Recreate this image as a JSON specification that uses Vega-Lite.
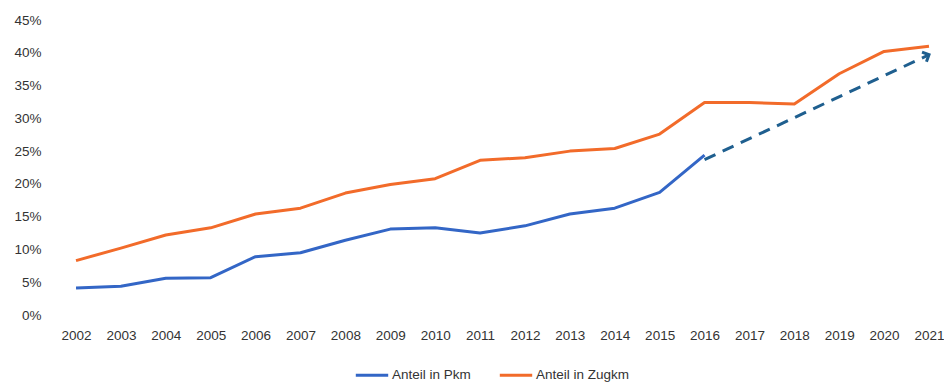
{
  "$schema": "https://vega.github.io/schema/vega-lite/v6.json",
  "width": 885,
  "height": 295,
  "autosize": {"type": "none"},
  "padding": {"left": 55, "top": 20, "right": 4, "bottom": 68},
  "background": "white",
  "config": {"view": {"stroke": null}, "font": "Liberation Sans"},
  "datasets": {
    "main": [
      {"year": 2002, "value": 4.1, "series": "Anteil in Pkm"},
      {"year": 2003, "value": 4.4, "series": "Anteil in Pkm"},
      {"year": 2004, "value": 5.6, "series": "Anteil in Pkm"},
      {"year": 2005, "value": 5.7, "series": "Anteil in Pkm"},
      {"year": 2006, "value": 8.9, "series": "Anteil in Pkm"},
      {"year": 2007, "value": 9.5, "series": "Anteil in Pkm"},
      {"year": 2008, "value": 11.4, "series": "Anteil in Pkm"},
      {"year": 2009, "value": 13.1, "series": "Anteil in Pkm"},
      {"year": 2010, "value": 13.3, "series": "Anteil in Pkm"},
      {"year": 2011, "value": 12.5, "series": "Anteil in Pkm"},
      {"year": 2012, "value": 13.6, "series": "Anteil in Pkm"},
      {"year": 2013, "value": 15.4, "series": "Anteil in Pkm"},
      {"year": 2014, "value": 16.3, "series": "Anteil in Pkm"},
      {"year": 2015, "value": 18.7, "series": "Anteil in Pkm"},
      {"year": 2016, "value": 24.4, "series": "Anteil in Pkm"},
      {"year": 2002, "value": 8.3, "series": "Anteil in Zugkm"},
      {"year": 2003, "value": 10.2, "series": "Anteil in Zugkm"},
      {"year": 2004, "value": 12.2, "series": "Anteil in Zugkm"},
      {"year": 2005, "value": 13.3, "series": "Anteil in Zugkm"},
      {"year": 2006, "value": 15.4, "series": "Anteil in Zugkm"},
      {"year": 2007, "value": 16.3, "series": "Anteil in Zugkm"},
      {"year": 2008, "value": 18.6, "series": "Anteil in Zugkm"},
      {"year": 2009, "value": 19.9, "series": "Anteil in Zugkm"},
      {"year": 2010, "value": 20.8, "series": "Anteil in Zugkm"},
      {"year": 2011, "value": 23.6, "series": "Anteil in Zugkm"},
      {"year": 2012, "value": 24.0, "series": "Anteil in Zugkm"},
      {"year": 2013, "value": 25.0, "series": "Anteil in Zugkm"},
      {"year": 2014, "value": 25.4, "series": "Anteil in Zugkm"},
      {"year": 2015, "value": 27.6, "series": "Anteil in Zugkm"},
      {"year": 2016, "value": 32.4, "series": "Anteil in Zugkm"},
      {"year": 2017, "value": 32.4, "series": "Anteil in Zugkm"},
      {"year": 2018, "value": 32.2, "series": "Anteil in Zugkm"},
      {"year": 2019, "value": 36.8, "series": "Anteil in Zugkm"},
      {"year": 2020, "value": 40.2, "series": "Anteil in Zugkm"},
      {"year": 2021, "value": 41.0, "series": "Anteil in Zugkm"}
    ],
    "trend": [
      {"year": 2016, "value": 23.7, "tip": false},
      {"year": 2021, "value": 39.7, "tip": true}
    ]
  },
  "encoding": {
    "x": {
      "field": "year", "type": "quantitative",
      "scale": {"domain": [2001.532, 2021.245], "nice": false, "zero": false},
      "axis": {
        "values": [2002, 2003, 2004, 2005, 2006, 2007, 2008, 2009, 2010, 2011, 2012, 2013, 2014, 2015, 2016, 2017, 2018, 2019, 2020, 2021],
        "format": "d", "grid": false, "domain": false, "ticks": false, "labelOverlap": false,
        "labelPadding": 13, "labelFontSize": 13.5, "labelColor": "#333333", "title": null
      }
    },
    "y": {
      "field": "value", "type": "quantitative",
      "scale": {"domain": [0, 45], "nice": false},
      "axis": {
        "values": [0, 5, 10, 15, 20, 25, 30, 35, 40, 45],
        "labelExpr": "datum.value + '%'", "labelOverlap": false,
        "grid": false, "domain": false, "ticks": false,
        "labelPadding": 14, "labelFontSize": 13.5, "labelColor": "#333333", "title": null
      }
    }
  },
  "layer": [
    {
      "data": {"name": "main"},
      "mark": {"type": "line", "strokeWidth": 3, "strokeJoin": "round"},
      "encoding": {
        "color": {
          "field": "series", "type": "nominal",
          "scale": {"domain": ["Anteil in Pkm", "Anteil in Zugkm"], "range": ["#3366c6", "#f26b2a"]},
          "legend": {
            "title": null, "orient": "none", "direction": "horizontal",
            "legendX": 299, "legendY": 337,
            "symbolType": "stroke", "symbolSize": 1050, "symbolStrokeWidth": 3,
            "labelFontSize": 13.5, "labelColor": "#333333", "labelOffset": 2,
            "columnPadding": 22
          }
        }
      }
    },
    {
      "data": {"name": "trend"},
      "mark": {"type": "line", "strokeWidth": 3, "strokeDash": [12, 8], "color": "#1f5f8f"},
      "encoding": {}
    },
    {
      "data": {"name": "trend"},
      "transform": [{"filter": "datum.tip"}],
      "mark": {"type": "point", "shape": "M-1,-1L0,0L-1,1", "angle": 335, "size": 110, "filled": false, "strokeWidth": 3, "color": "#1f5f8f", "opacity": 1},
      "encoding": {}
    }
  ]
}
